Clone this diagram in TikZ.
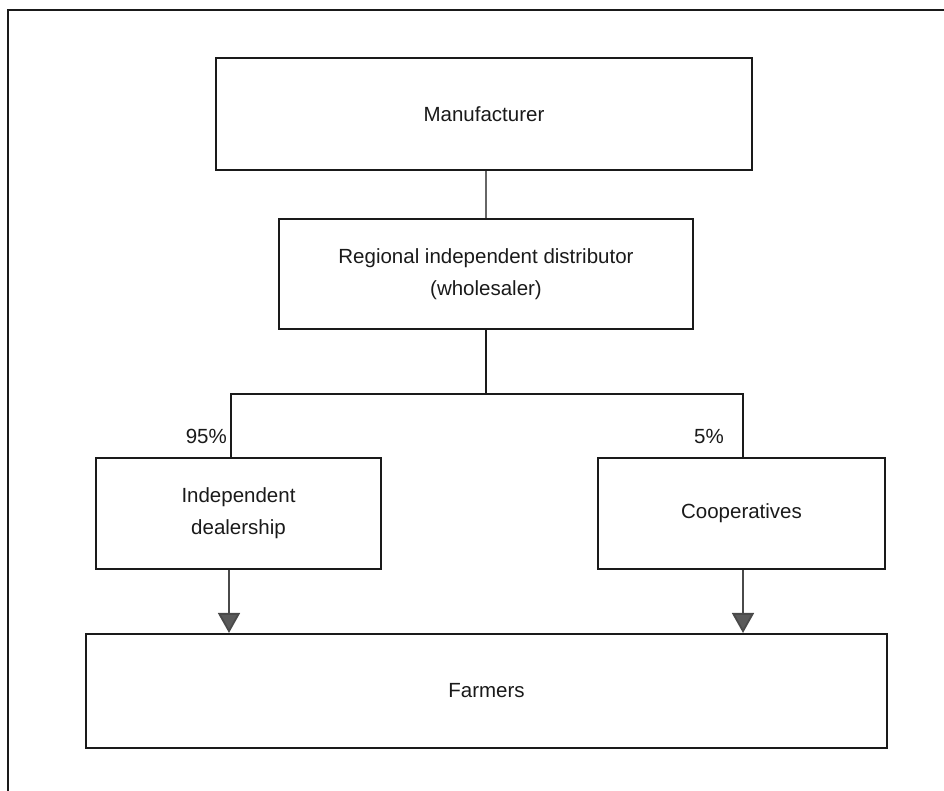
\documentclass[tikz,border=0pt]{standalone}
\usepackage{fontspec}
\setmainfont{Liberation Sans}
\usetikzlibrary{arrows.meta}
\definecolor{ink}{HTML}{1A1A1A}
\definecolor{wire}{HTML}{4A4A4A}
\definecolor{tipfill}{HTML}{5A5A5A}
\begin{document}
\begin{tikzpicture}[x=1pt,y=-1pt,
  box/.style={draw=ink,line width=2.1pt,rectangle,inner sep=0pt,align=center,
    text=ink,font=\fontsize{20.5}{32}\selectfont},
  pct/.style={text=ink,font=\fontsize{20.5}{24}\selectfont,inner sep=0pt,anchor=east},
  link/.style={draw=ink,line width=2.1pt},
  thinlink/.style={draw=gray!80!black,line width=1.6pt},
  flow/.style={draw=wire,line width=1.8pt,
    -{Triangle[width=22pt,length=20pt,fill=tipfill]}}]
  \useasboundingbox (0,0) rectangle (944,791);
  % open frame around the chart (top and left edges)
  \draw[ink,line width=2pt] (7.5,791) -- (7.5,10.5) -- (944,10.5);

  % boxes
  \node[box,minimum width=536pt,minimum height=112pt] (man) at (484,114) {Manufacturer};
  \node[box,minimum width=414pt,minimum height=110pt] (reg) at (486,274)
    {Regional independent distributor\\(wholesaler)};
  \node[box,minimum width=285pt,minimum height=111pt] (ind) at (238.5,513.5)
    {Independent\\dealership};
  \node[box,minimum width=287pt,minimum height=111pt] (coop) at (741.5,513.5) {Cooperatives};
  \node[box,minimum width=801pt,minimum height=114pt] (farm) at (486.5,691) {Farmers};

  % branch points
  \coordinate (hub) at (486,394);
  \coordinate (lt) at (231,394);
  \coordinate (rt) at (743,394);
  \coordinate (la) at (229,600);
  \coordinate (ra) at (743,600);

  % connectors
  \draw[thinlink] (reg.north |- man.south) -- (reg.north);
  \draw[link] (reg.south) -- (hub);
  \draw[link] (ind.north -| lt) -- (lt) -- (rt) -- (coop.north -| rt);
  \draw[flow] (ind.south -| la) -- (farm.north -| la);
  \draw[flow] (coop.south -| ra) -- (farm.north -| ra);

  % shares
  \node[pct] (p95) at (227,436) {95\%};
  \node[pct] (p5) at (724,436) {5\%};
\end{tikzpicture}
\end{document}
